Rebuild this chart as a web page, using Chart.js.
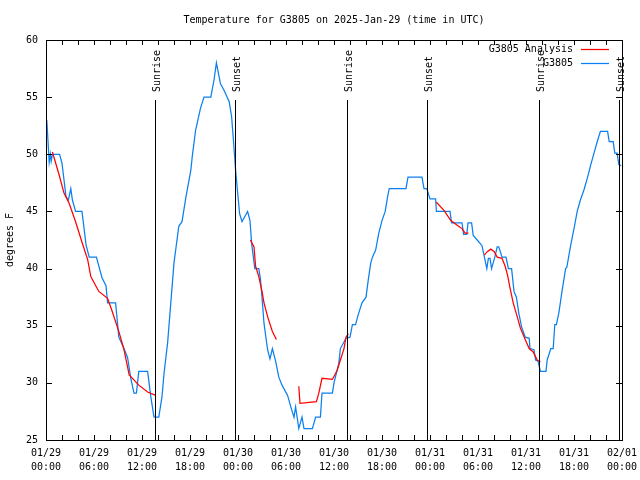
<!DOCTYPE html>
<html>
<head>
<meta charset="utf-8">
<script src="https://cdn.jsdelivr.net/npm/chart.js@4"></script>
<style>
  html, body { margin: 0; padding: 0; background: #ffffff; }
  #wrap { width: 640px; height: 480px; }
</style>
</head>
<body>
<div id="wrap"><canvas id="c" width="640" height="480"></canvas></div>
<script>
// ---- Data (hours since 2025-01-29 00:00 UTC, degrees F) ----
const obsHours = [0.1,0.4,0.55,0.65,0.8,1.7,2.0,2.5,2.8,3.1,3.3,3.7,4.5,5.0,5.4,6.3,7.0,7.5,7.7,8.7,9.1,9.75,10.2,10.6,11.0,11.3,11.6,12.7,13.1,13.5,14.1,14.5,14.75,15.2,15.6,16.0,16.6,17.0,17.5,18.1,18.3,18.7,19.3,19.75,20.6,21.0,21.3,21.8,22.25,22.9,23.2,23.4,23.7,24.2,24.5,25.2,25.5,25.7,26.1,26.6,26.8,27.0,27.25,27.7,28.0,28.3,28.7,29.1,29.5,30.2,30.6,31.0,31.2,31.6,32.0,32.25,33.3,33.7,34.3,34.5,35.8,36.0,36.6,36.8,37.5,38.0,38.3,38.7,39.0,39.5,40.0,40.3,40.6,40.8,41.2,41.6,42.0,42.4,42.7,42.9,45.0,45.25,47.0,47.25,47.6,48.0,48.7,48.8,50.5,50.7,52.0,52.2,52.6,52.75,53.2,53.4,53.9,54.5,54.8,55.1,55.3,55.5,55.7,56.1,56.4,56.6,57.0,57.5,57.8,58.2,58.5,58.8,59.1,59.45,59.9,60.4,60.5,61.0,61.2,61.5,61.8,62.5,62.65,63.1,63.4,63.6,63.8,64.1,64.5,64.95,65.1,65.6,66.0,66.4,66.8,67.25,67.7,68.1,68.5,68.9,69.3,70.2,70.4,70.9,71.1,71.4,71.6,71.9];
const obsTemps = [53.0,49.3,50.0,49.4,50.0,50.0,49.2,46.3,46.0,47.0,46.0,45.0,45.0,42.1,41.0,41.0,39.2,38.5,37.0,37.0,34.0,33.0,32.2,30.4,29.1,29.1,31.0,31.0,28.8,27.0,27.0,28.8,30.8,33.5,37.0,40.5,43.7,44.1,46.3,48.6,49.9,52.1,54.0,55.0,55.0,56.5,58.0,56.2,55.6,54.6,53.3,51.5,48.6,44.8,44.1,45.0,44.2,42.2,40.0,40.0,39.1,37.5,35.2,32.9,32.1,33.0,31.9,30.5,29.8,28.9,27.9,27.0,27.9,26.0,27.0,26.0,26.0,27.0,27.0,29.1,29.1,30.0,31.7,33.0,33.9,34.0,35.1,35.1,35.9,37.0,37.5,39.1,40.5,41.0,41.6,43.1,44.2,45.0,46.3,47.0,47.0,48.0,48.0,47.0,47.0,46.1,46.1,45.0,45.0,44.0,44.0,43.0,43.0,44.0,44.0,42.9,42.5,42.0,41.0,40.0,40.9,40.9,40.0,41.0,41.9,41.9,41.0,41.0,40.0,40.0,38.0,37.5,36.1,34.9,34.0,33.9,33.0,32.9,32.0,31.9,31.0,31.0,32.0,33.0,33.0,35.1,35.1,36.1,38.0,40.0,40.1,42.1,43.5,45.0,46.0,46.9,48.0,49.1,50.1,51.1,52.0,52.0,51.1,51.1,50.1,50.1,49.1,49.0];

// Analysis series; null marks a gap
const anaHours = [0.8,1.6,2.25,2.9,3.7,4.5,5.2,5.6,6.6,7.7,8.3,9.1,9.75,10.4,11.6,12.7,13.7,13.8,
  25.55,26.0,26.2,26.6,27.0,27.25,27.7,28.3,28.8,28.9,
  31.6,31.75,33.8,34.1,34.5,35.8,36.4,36.8,37.25,37.5,37.8,37.9,
  48.8,49.75,50.6,51.4,52.0,52.4,52.8,52.9,
  54.8,55.2,55.6,56.0,56.4,57.0,57.4,57.7,58.0,58.4,58.9,59.3,59.9,60.4,60.9,61.4,61.8];
const anaTemps = [50.2,48.3,46.6,45.7,44.1,42.3,40.8,39.3,38.0,37.4,36.2,34.5,32.9,30.7,29.8,29.2,28.9,null,
  42.5,41.9,40.2,39.3,38.0,37.0,35.8,34.5,33.8,null,
  29.7,28.2,28.35,29.1,30.4,30.3,31.1,32.0,33.0,34.0,34.3,null,
  45.8,45.1,44.2,43.8,43.5,43.1,43.1,null,
  41.2,41.5,41.7,41.5,41.0,40.9,40.2,39.4,38.3,37.0,35.8,34.8,33.8,33.0,32.7,32.0,31.85];

// Sun events (hours since start)
const sunHours = [13.58, 23.58, 37.6, 47.6, 61.6, 71.6];
const sunLabels = ['Sunrise', 'Sunset', 'Sunrise', 'Sunset', 'Sunrise', 'Sunset'];

// Tick labels for x axis (every 6 hours)
const xTickDates = ['01/29','01/29','01/29','01/29','01/30','01/30','01/30','01/30','01/31','01/31','01/31','01/31','02/01'];
const xTickTimes = ['00:00','06:00','12:00','18:00','00:00','06:00','12:00','18:00','00:00','06:00','12:00','18:00','00:00'];

const seriesNames = ['G3805 Analysis', 'G3805'];
const seriesColors = ['#ff0000', '#0a80f0'];
const titleText = 'Temperature for G3805 on 2025-Jan-29 (time in UTC)';

const FONT = 'DejaVu Sans Mono';

const toPoints = (xs, ys) => xs.map((x, i) => ({ x: x, y: ys[i] }));

const overlay = {
  id: 'overlay',
  afterDatasetsDraw(chart) {
    const ctx = chart.ctx;
    const xs = chart.scales.x, ys = chart.scales.y;
    const a = chart.chartArea;
    ctx.save();
    ctx.strokeStyle = '#000';
    ctx.lineWidth = 1;
    // sun lines
    ctx.font = '10px "' + FONT + '"';
    ctx.fillStyle = '#000';
    sunHours.forEach((h, i) => {
      const px = Math.round(xs.getPixelForValue(h)) + 0.5;
      ctx.beginPath();
      ctx.moveTo(px, a.top + 60);
      ctx.lineTo(px, a.bottom);
      ctx.stroke();
      ctx.save();
      ctx.translate(px + 2, a.top + 52);
      ctx.rotate(-Math.PI / 2);
      ctx.textAlign = 'left';
      ctx.textBaseline = 'middle';
      ctx.fillText(sunLabels[i], 0, 0);
      ctx.restore();
    });
    // border
    ctx.strokeRect(Math.round(a.left) + 0.5, Math.round(a.top) + 0.5,
                   Math.round(a.right - a.left), Math.round(a.bottom - a.top));
    // inward ticks
    ctx.beginPath();
    for (let h = xs.min; h <= xs.max + 1e-9; h += 2) {
      const px = Math.round(xs.getPixelForValue(h)) + 0.5;
      ctx.moveTo(px, a.bottom); ctx.lineTo(px, a.bottom - 5);
      ctx.moveTo(px, a.top); ctx.lineTo(px, a.top + 5);
    }
    for (let v = ys.min; v <= ys.max + 1e-9; v += 5) {
      const py = Math.round(ys.getPixelForValue(v)) + 0.5;
      ctx.moveTo(a.left, py); ctx.lineTo(a.left + 6, py);
      ctx.moveTo(a.right, py); ctx.lineTo(a.right - 6, py);
    }
    ctx.stroke();
    // legend
    ctx.textAlign = 'right';
    ctx.textBaseline = 'middle';
    chart.data.datasets.forEach((ds, i) => {
      const y = a.top + 9 + i * 14;
      ctx.fillStyle = '#000';
      ctx.fillText(ds.label, a.right - 49, y);
      ctx.strokeStyle = ds.borderColor;
      ctx.lineWidth = 1.25;
      ctx.beginPath();
      ctx.moveTo(a.right - 41, y + 0.5);
      ctx.lineTo(a.right - 13, y + 0.5);
      ctx.stroke();
    });
    ctx.restore();
  }
};

new Chart(document.getElementById('c'), {
  type: 'line',
  data: {
    datasets: [
      { label: seriesNames[0], data: toPoints(anaHours, anaTemps), borderColor: seriesColors[0],
        borderWidth: 1.25, pointRadius: 0, tension: 0, spanGaps: false, fill: false },
      { label: seriesNames[1], data: toPoints(obsHours, obsTemps), borderColor: seriesColors[1],
        borderWidth: 1.25, pointRadius: 0, tension: 0, fill: false }
    ]
  },
  options: {
    responsive: false,
    animation: false,
    devicePixelRatio: 1,
    layout: { padding: { left: 0, right: 18, top: 0, bottom: 0 } },
    plugins: {
      legend: { display: false },
      tooltip: { enabled: false },
      title: { display: true, fullSize: false, text: titleText, color: '#000',
               font: { family: FONT, size: 10, weight: 'normal' },
               padding: { top: 14, bottom: 14 } }
    },
    scales: {
      x: {
        type: 'linear', min: 0, max: 72,
        grid: { display: false, drawTicks: false },
        border: { display: false },
        afterFit: (s) => { s.height = 40; s.paddingLeft = 0; s.paddingRight = 0; },
        ticks: {
          stepSize: 6, autoSkip: false, maxRotation: 0, padding: 6, color: '#000',
          font: { family: FONT, size: 10, lineHeight: 1.4 },
          callback: (v) => { const i = Math.round(v / 6); return [xTickDates[i], xTickTimes[i]]; }
        }
      },
      y: {
        min: 25, max: 60,
        grid: { display: false, drawTicks: false },
        border: { display: false },
        afterFit: (s) => { s.width = 46; s.paddingTop = 0; s.paddingBottom = 0; },
        title: { display: true, text: 'degrees F', color: '#000',
                 font: { family: FONT, size: 10 }, padding: { top: 4, bottom: 0 } },
        ticks: { stepSize: 5, padding: 8, color: '#000', font: { family: FONT, size: 10 } }
      }
    }
  },
  plugins: [overlay]
});
</script>
</body>
</html>
